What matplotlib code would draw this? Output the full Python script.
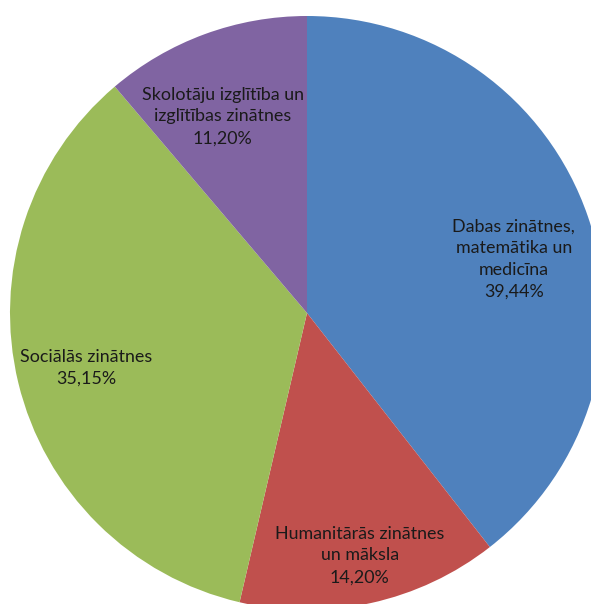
import numpy as np
import matplotlib
matplotlib.use("Agg")
import matplotlib.pyplot as plt

categories = ["Dabas zinātnes,\nmatemātika un\nmedicīna",
              "Humanitārās zinātnes\nun māksla",
              "Sociālās zinātnes",
              "Skolotāju izglītība un\nizglītības zinātnes"]
values = [39.44, 14.20, 35.15, 11.20]
value_labels = ["39,44%", "14,20%", "35,15%", "11,20%"]
colors = ["#4F81BD", "#C0504D", "#9BBB59", "#8064A2"]
label_dist = [0.72, 0.835, 0.765, 0.72]
label_ang_off = [-4.4, -0.2, 0.3, 3.0]

W, H = 591, 604
fig = plt.figure(figsize=(W / 100, H / 100), dpi=100)
ax = fig.add_axes([0, 0, 1, 1])

cx, cy, r = 307, 313, 297
wedges, _ = ax.pie(values, colors=colors, startangle=90, counterclock=False,
                   wedgeprops=dict(linewidth=0))
ax.set_aspect("auto")
ax.set_xlim(-cx / r, (W - cx) / r)
ax.set_ylim((cy - H) / r, cy / r)
ax.axis("off")

for w, cat, vl, d, off in zip(wedges, categories, value_labels, label_dist, label_ang_off):
    ang = np.deg2rad((w.theta1 + w.theta2) / 2 + off)
    ax.text(d * np.cos(ang), d * np.sin(ang), cat + "\n" + vl,
            ha="center", va="center", fontsize=12.9, family="Lato",
            color="#1a1a1a", linespacing=1.45)

fig.savefig("out.png", dpi=100)
